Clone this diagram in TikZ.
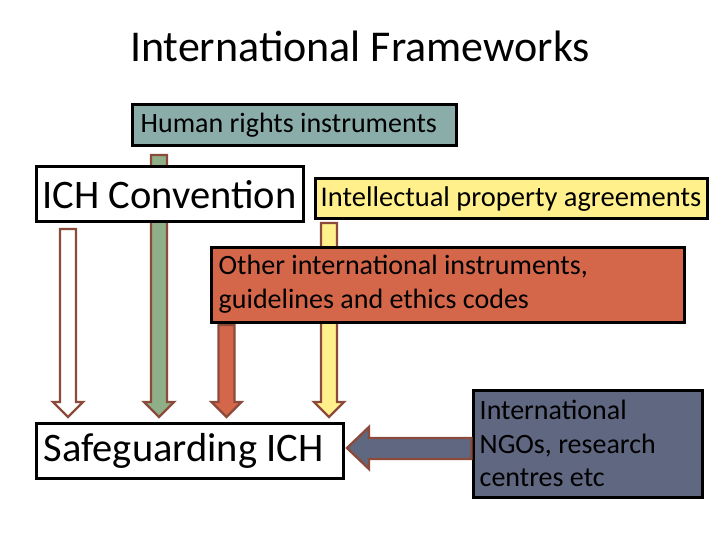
\documentclass[tikz,border=0pt]{standalone}
\usepackage{fontspec}
\setmainfont{Carlito}
\definecolor{teal}{HTML}{8BADAA}
\definecolor{ipyel}{HTML}{FFF08C}
\definecolor{othred}{HTML}{D4674A}
\definecolor{slate}{HTML}{5F6781}
\definecolor{grn}{HTML}{8FAF88}
\definecolor{brn}{HTML}{8B4A3A}
\newcommand\blkdown[4]{% x, ytop, ytip, fill
  \draw[blk,fill=#4] (#1-8,#2) -- (#1+8,#2) -- (#1+8,#3-15) -- (#1+15,#3-15) -- (#1,#3) -- (#1-15,#3-15) -- (#1-8,#3-15) -- cycle;}
\begin{document}
\begin{tikzpicture}[x=1pt,y=-1pt,
  box/.style={draw=black,line width=3pt,inner sep=0pt},
  blk/.style={draw=brn,line width=2.4pt,line join=miter},
  small/.style={font=\fontsize{28}{34}\selectfont},
  big/.style={font=\fontsize{40.5}{48}\selectfont},
  txt/.style={inner sep=0pt,align=left}]
\useasboundingbox (0,0) rectangle (720,540);
\node[font=\fontsize{44}{52}\selectfont] (title) at (360,46) {International Frameworks};
% arrows behind boxes
\blkdown{68}{229}{417}{white}
\blkdown{159}{155}{417}{grn}
\blkdown{226.5}{325}{417}{othred}
\blkdown{329}{223}{417}{ipyel}
% boxes
\node[box,fill=teal,minimum width=324pt,minimum height=41pt] (hr) at (294,125.5) {};
\node[txt,small,anchor=west] (hrt) at ([xshift=10pt]hr.west) {Human rights instruments};
\node[box,fill=white,minimum width=267pt,minimum height=55pt] (ich) at (169.5,194.5) {};
\node[txt,big,anchor=west] (icht) at ([xshift=8pt]ich.west) {ICH Convention};
\node[box,fill=ipyel,minimum width=392pt,minimum height=40pt] (ip) at (511,199) {};
\node[txt,font=\fontsize{28.5}{34}\selectfont,anchor=west] (ipt) at ([xshift=7pt]ip.west) {Intellectual property agreements};
\node[box,fill=othred,minimum width=473pt,minimum height=75pt] (oth) at (447.5,284.5) {};
\node[txt,small,anchor=west] (otht) at ([xshift=9pt]oth.west) {Other international instruments,\\ guidelines and ethics codes};
\node[box,fill=white,minimum width=307pt,minimum height=55pt] (saf) at (189.5,450.5) {};
\node[txt,big,anchor=west] (saft) at ([xshift=9pt]saf.west) {Safeguarding ICH};
\node[box,fill=slate,minimum width=229pt,minimum height=107pt] (ngo) at (587.5,443.5) {};
\node[txt,font=\fontsize{28}{33.5}\selectfont,anchor=west] (ngot) at ([xshift=8pt]ngo.west) {International\\ NGOs, research\\ centres etc};
% left block arrow
\draw[blk,fill=slate] (ngo.west |- 0,438) -- (369,438) -- (369,427) -- (347,448) -- (369,469) -- (369,459) -- (ngo.west |- 0,459) -- cycle;
\end{tikzpicture}
\end{document}
